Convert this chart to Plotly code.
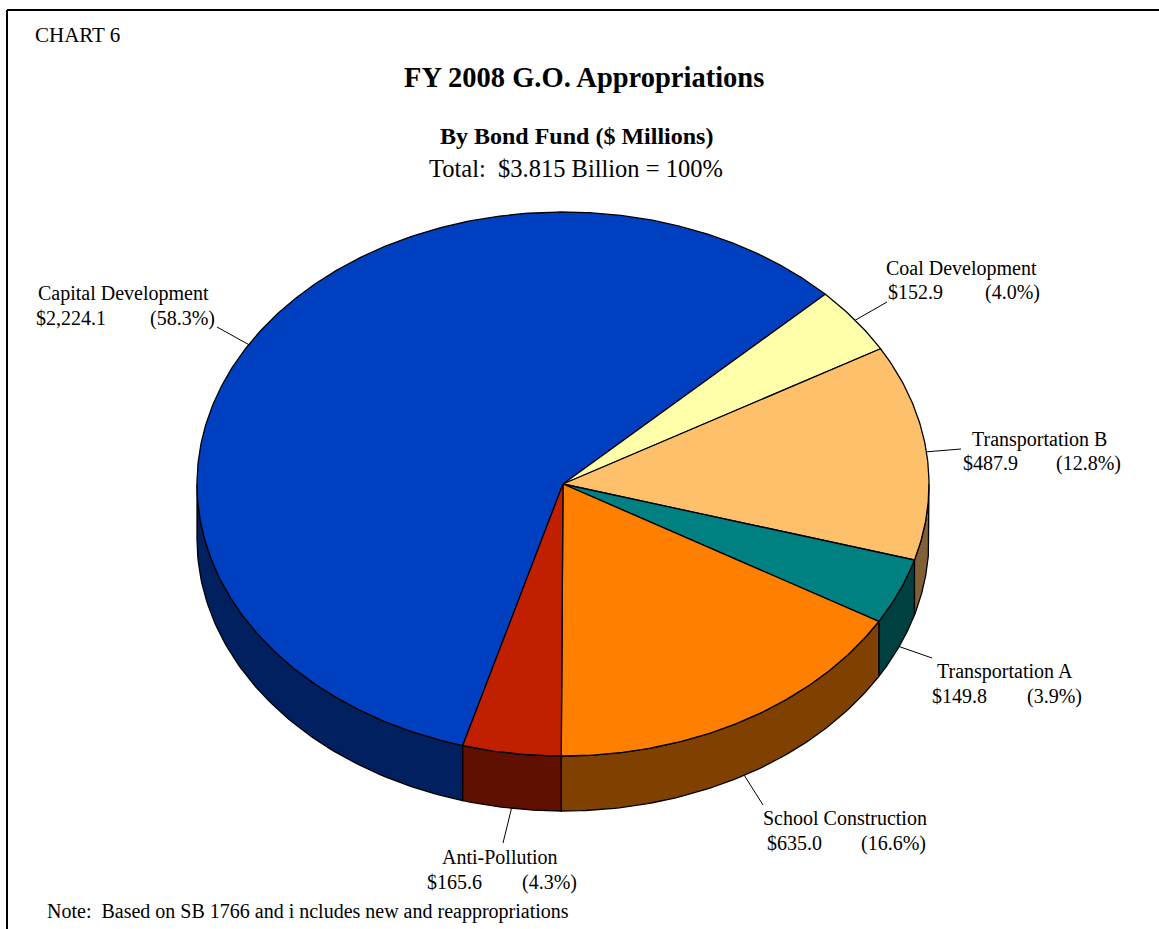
import numpy as np
import plotly.graph_objects as go

# Bond fund appropriations, $ millions (drawing order, clockwise)
funds = ["Capital Development", "Coal Development", "Transportation B",
         "Transportation A", "School Construction", "Anti-Pollution"]
amounts = [2224.1, 152.9, 487.9, 149.8, 635.0, 165.6]
top_colors = ["#0040C0", "#FFFFAA", "#FFC06C", "#008080", "#FF8000", "#C02000"]
side_colors = ["#002060", "#807F55", "#806036", "#004040", "#804000", "#601000"]

W, H = 1159, 929
CX, CY, RX, RY, DEPTH = 563, 484, 366, 272, 55
START_DEG = 254.1  # first slice starts here and runs clockwise

# label anchor points (name x, value x, name y, value y, percent right x, leader end)
label_pos = {
    "Capital Development": dict(xn=36, xv=34, yn=293, yv=318, xr=217, lead=(217, 327)),
    "Coal Development": dict(xn=884, xv=886, yn=268, yv=292, xr=1042, lead=(887, 302)),
    "Transportation B": dict(xn=970, xv=961, yn=439, yv=463, xr=1123, lead=(961, 449)),
    "Transportation A": dict(xn=935, xv=930, yn=671, yv=696, xr=1084, lead=(932, 658)),
    "School Construction": dict(xn=761, xv=765, yn=818, yv=843, xr=928, lead=(763, 805)),
    "Anti-Pollution": dict(xn=440, xv=425, yn=857, yv=882, xr=579, lead=(503, 843)),
}

total = sum(amounts)


def rim(t_deg, drop=0.0):
    t = np.radians(t_deg)
    return CX + RX * np.cos(t), CY - RY * np.sin(t) + drop


fig = go.Figure()

# slice angular extents
spans = []
a = START_DEG
for v in amounts:
    sweep = 360.0 * v / total
    spans.append((a - sweep, a))
    a -= sweep

# outer wall (visible front half: 180..360 degrees)
for (lo, hi), col in zip(spans, side_colors):
    for k in (-1, 0, 1):
        s, e = max(lo, 180 + 360 * k), min(hi, 360 + 360 * k)
        if e <= s:
            continue
        ts = np.linspace(s, e, 80)
        xt, yt = rim(ts)
        xb, yb = rim(ts[::-1], DEPTH)
        fig.add_trace(go.Scatter(
            x=np.concatenate([xt, xb, xt[:1]]), y=np.concatenate([yt, yb, yt[:1]]),
            mode="lines", fill="toself", fillcolor=col,
            line=dict(color="black", width=1.3), hoverinfo="skip", showlegend=False))

# top face
for (lo, hi), col in zip(spans, top_colors):
    ts = np.linspace(lo, hi, max(4, int((hi - lo) * 2)))
    xt, yt = rim(ts)
    fig.add_trace(go.Scatter(
        x=np.concatenate([[CX], xt, [CX]]), y=np.concatenate([[CY], yt, [CY]]),
        mode="lines", fill="toself", fillcolor=col,
        line=dict(color="black", width=1.3), hoverinfo="skip", showlegend=False))

# labels and leader lines
lab_font = dict(family="Liberation Serif", size=20, color="black")
annotations = []
for name, v, (lo, hi) in zip(funds, amounts, spans):
    p = label_pos[name]
    mid = (lo + hi) / 2
    drop = DEPTH if np.sin(np.radians(mid)) < 0 else 0
    sx, sy = rim(mid, drop)
    ex, ey = p["lead"]
    fig.add_trace(go.Scatter(x=[sx, ex], y=[sy, ey], mode="lines",
                             line=dict(color="black", width=1),
                             hoverinfo="skip", showlegend=False))
    annotations += [
        dict(x=p["xn"], y=p["yn"], text=name, xanchor="left", yanchor="middle",
             showarrow=False, font=lab_font),
        dict(x=p["xv"], y=p["yv"], text=f"${v:,.1f}", xanchor="left", yanchor="middle",
             showarrow=False, font=lab_font),
        dict(x=p["xr"], y=p["yv"], text=f"({v / total * 100:.1f}%)", xanchor="right",
             yanchor="middle", showarrow=False, font=lab_font),
    ]

serif = "Liberation Serif"
annotations += [
    dict(x=33, y=35, text="CHART 6", xanchor="left", yanchor="middle", showarrow=False,
         font=dict(family=serif, size=21, color="black")),
    dict(x=584, y=77, text="<b>FY 2008 G.O. Appropriations</b>", xanchor="center",
         yanchor="middle", showarrow=False, font=dict(family=serif, size=28.5, color="black")),
    dict(x=576, y=136, text="<b>By Bond Fund ($ Millions)</b>", xanchor="center",
         yanchor="middle", showarrow=False, font=dict(family=serif, size=24, color="black")),
    dict(x=576, y=168, text=f"Total:\u00a0 ${total / 1000:.3f} Billion = 100%", xanchor="center",
         yanchor="middle", showarrow=False, font=dict(family=serif, size=24.5, color="black")),
    dict(x=45, y=911, text="Note:\u00a0 Based on SB 1766 and i ncludes new and reappropriations",
         xanchor="left", yanchor="middle", showarrow=False,
         font=dict(family=serif, size=20, color="black")),
]

fig.update_layout(
    width=W, height=H, autosize=False,
    margin=dict(l=0, r=0, t=0, b=0),
    paper_bgcolor="white", plot_bgcolor="white",
    xaxis=dict(range=[0, W], visible=False, fixedrange=True),
    yaxis=dict(range=[H, 0], visible=False, fixedrange=True),
    annotations=annotations,
    shapes=[
        dict(type="line", xref="x", yref="y", x0=7, y0=10, x1=W, y1=10,
             line=dict(color="black", width=2)),
        dict(type="line", xref="x", yref="y", x0=7, y0=10, x1=7, y1=H,
             line=dict(color="black", width=2)),
    ],
)

fig.write_html("out.html")
